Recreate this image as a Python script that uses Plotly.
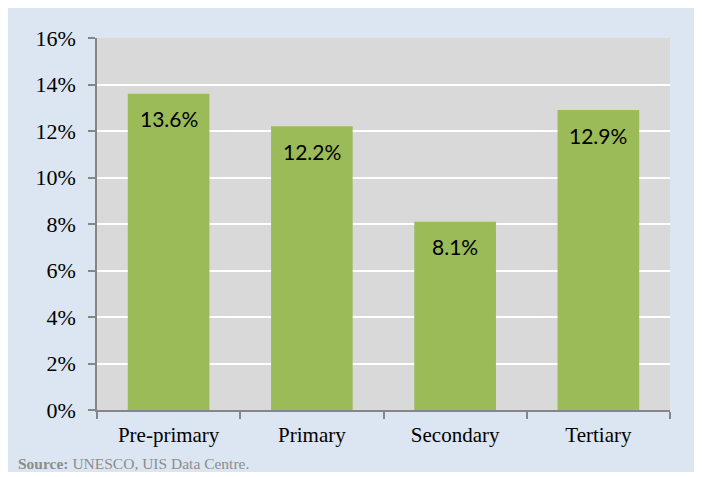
import plotly.graph_objects as go

categories = ["Pre-primary", "Primary", "Secondary", "Tertiary"]
values = [13.6, 12.2, 8.1, 12.9]
value_labels = ["13.6%", "12.2%", "8.1%", "12.9%"]
tick_vals = [0, 2, 4, 6, 8, 10, 12, 14, 16]
tick_text = [f"{v}%" for v in tick_vals]

W, H = 692, 464
L, R, T, B = 89, 30, 30, 62
pw, ph = W - L - R, H - T - B

def px_x(p):
    return (p - L) / pw

def px_y(p):
    return (H - B - p) / ph

serif = "Liberation Serif, DejaVu Serif, serif"

fig = go.Figure()
fig.add_trace(go.Bar(
    x=categories, y=values,
    marker=dict(color="#9bbb59", line=dict(width=0)),
    width=0.57,
    hoverinfo="skip",
))

for c, v, t in zip(categories, values, value_labels):
    fig.add_annotation(x=c, y=v, text=t, showarrow=False, yanchor="middle",
                       yshift=-25, font=dict(family="Lato, Carlito, sans-serif", size=21, color="#000000"))

fig.add_annotation(xref="paper", yref="paper", x=px_x(8), y=px_y(455),
                   xanchor="left", yanchor="middle", showarrow=False,
                   text="<b>Source:</b> UNESCO, UIS Data Centre.",
                   font=dict(family=serif, size=15.5, color="#8c8c8c"))

fig.update_layout(
    width=W, height=H,
    margin=dict(l=L, r=R, t=T, b=B, pad=0),
    paper_bgcolor="#dce6f2",
    plot_bgcolor="#d9d9d9",
    showlegend=False,
    bargap=0.43,
    font=dict(family=serif, size=21, color="#000000"),
    xaxis=dict(
        type="category",
        showline=True, linecolor="#868686", linewidth=1.5,
        ticks="outside", ticklen=7, tickcolor="#868686", tickwidth=1.5,
        tickson="boundaries",
        ticklabelstandoff=5,
        showgrid=False,
        tickfont=dict(family=serif, size=21, color="#000000"),
    ),
    yaxis=dict(
        range=[0, 16],
        tickmode="array", tickvals=tick_vals, ticktext=tick_text,
        showline=True, linecolor="#868686", linewidth=1.5,
        ticks="outside", ticklen=7, tickcolor="#868686", tickwidth=1.5,
        ticklabelstandoff=8,
        showgrid=True, gridcolor="#ffffff", gridwidth=2,
        zeroline=False,
        tickfont=dict(family=serif, size=22, color="#000000"),
    ),
)

fig.write_html("out.html")
